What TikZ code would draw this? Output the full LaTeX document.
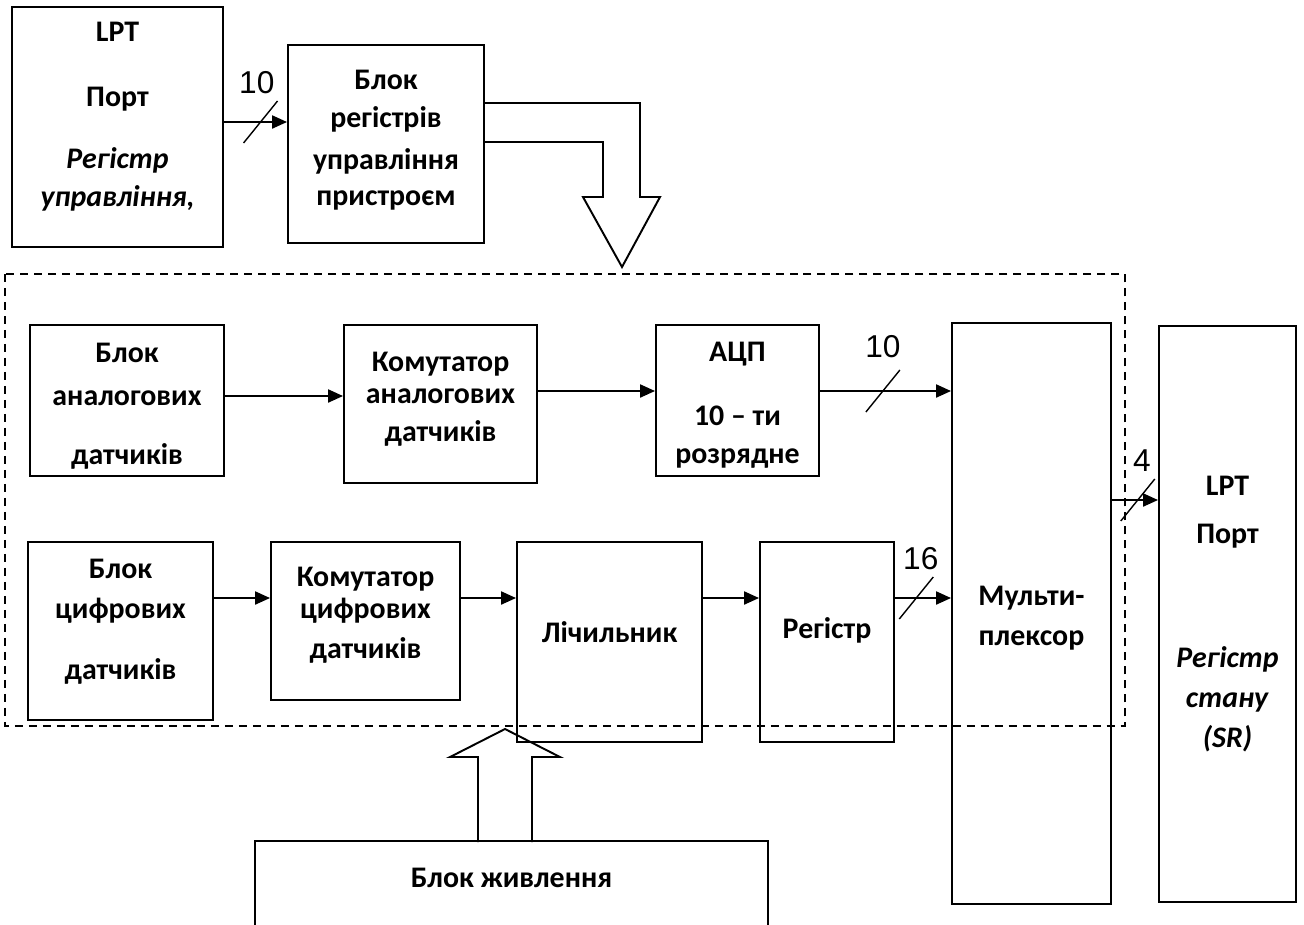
\documentclass[tikz,border=0pt]{standalone}
\usepackage{fontspec}
\setmainfont{Carlito}
\newfontfamily\numfont{Liberation Sans}
\usetikzlibrary{arrows.meta,positioning}

\tikzset{
  blk/.style={draw, line width=1.1pt, align=center, inner sep=0pt,
    font=\fontsize{17}{21}\selectfont\bfseries},
  arr/.style={line width=1.2pt, -{Triangle[length=0.3cm,width=0.26cm]}},
  num/.style={font=\fontsize{18}{20}\selectfont\numfont, inner sep=0pt},
  hollow/.style={line width=1.1pt},
  frame/.style={line width=0.8pt, dash pattern=on 0.16cm off 0.12cm},
  slash/.pic={\draw[line width=0.8pt, -] (-0.34cm,-0.42cm) -- (0.34cm,0.42cm);}
}
\newcommand{\dn}[1]{\rule[-#1]{0pt}{0pt}}
\newcommand{\up}[1]{\rule{0pt}{#1}}

\begin{document}
\begin{tikzpicture}[x=0.02cm,y=-0.02cm]
\useasboundingbox (0,0) rectangle (1304,924);

% upper part
\node[blk, minimum width=4.22cm, minimum height=4.8cm] (lpt) at (117.5,127)
  {LPT\\[16pt] Порт\\[14.3pt] \textit{Регістр}\\[0.6pt] \textit{управління,}\dn{15pt}};
\node[blk, minimum width=3.92cm, minimum height=3.96cm] (reg) at (386,144)
  {Блок\\[0.6pt] регістрів\\[2.9pt] управління\\[0pt] пристроєм\dn{7pt}};
\draw[arr] (lpt.east |- 0,122) -- (reg.west |- 0,122)
  pic[pos=0.58] {slash} node[pos=0.52, above=0.55cm, num] {10};
\draw[hollow] (reg.east |- 0,103) -- (640,103) -- (640,197) -- (660,197)
  -- (622,267) -- (583,197) -- (603,197) -- (603,142) -- (reg.east |- 0,142);

% device
\draw[frame] (5,274) rectangle (1125,726);

\node[blk, minimum width=3.88cm, minimum height=3.02cm] (ana) at (127,400.5)
  {\up{17pt}Блок\\[3.5pt] аналогових\\[12.6pt] датчиків};
\node[blk, minimum width=3.86cm, minimum height=3.16cm] (kan) at (440.5,404)
  {Комутатор\\[-2.8pt] аналогових\\[0.6pt] датчиків\dn{8pt}};
\node[blk, minimum width=3.26cm, minimum height=3.02cm] (adc) at (737.5,400.5)
  {\up{16.6pt}АЦП\\[15.4pt] 10 – ти\\[0.6pt] розрядне};
\node[blk, minimum width=3.18cm, minimum height=11.62cm] (mux) at (1031.5,613.5)
  {\up{16pt}Мульти-\\[1.8pt] плексор};
\node[blk, minimum width=2.74cm, minimum height=11.52cm] (lptr) at (1227.5,614)
  {LPT\\[6.3pt] Порт\\[50pt] \textit{Регістр}\\[1.8pt] \textit{стану}\\[1.8pt] \textit{(SR)}};

\node[blk, minimum width=3.7cm, minimum height=3.56cm] (dig) at (120.5,631)
  {Блок\\[1.8pt] цифрових\\[13.7pt] датчиків\dn{13pt}};
\node[blk, minimum width=3.78cm, minimum height=3.16cm] (kdig) at (365.5,621)
  {Комутатор\\[-2.8pt] цифрових\\[1.8pt] датчиків\dn{9pt}};
\node[blk, minimum width=3.7cm, minimum height=4cm] (cnt) at (609.5,642)
  {Лічильник\dn{11.4pt}};
\node[blk, minimum width=2.68cm, minimum height=4cm] (rgs) at (827,642)
  {Регістр\dn{15.6pt}};

\draw[arr] (ana.east |- 0,396) -- (kan.west |- 0,396);
\draw[arr] (kan.east |- 0,391) -- (adc.west |- 0,391);
\draw[arr] (adc.east |- 0,391) -- (mux.west |- 0,391)
  pic[pos=0.48] {slash} node[pos=0.48, above=0.65cm, num] {10};

\draw[arr] (dig.east |- 0,598) -- (kdig.west |- 0,598);
\draw[arr] (kdig.east |- 0,598) -- (cnt.west |- 0,598);
\draw[arr] (cnt.east |- 0,598) -- (rgs.west |- 0,598);
\draw[arr] (rgs.east |- 0,598) -- (mux.west |- 0,598)
  pic[pos=0.38] {slash} node[pos=0.46, above=0.55cm, num] {16};
\draw[arr] (mux.east |- 0,500) -- (lptr.west |- 0,500)
  pic[pos=0.56] {slash} node[pos=0.65, above=0.55cm, num] {4};

% power supply
\node[blk, draw=none, minimum width=10.22cm, minimum height=1.7cm] (pwr) at (511.5,884.5)
  {Блок живлення\dn{8pt}};
\draw[hollow] (pwr.south west) |- (pwr.north east) -- (pwr.south east);
\draw[hollow] (478,842) -- (478,757) -- (450,757) -- (505,729) -- (560,757)
  -- (532,757) -- (532,842);
\end{tikzpicture}
\end{document}
